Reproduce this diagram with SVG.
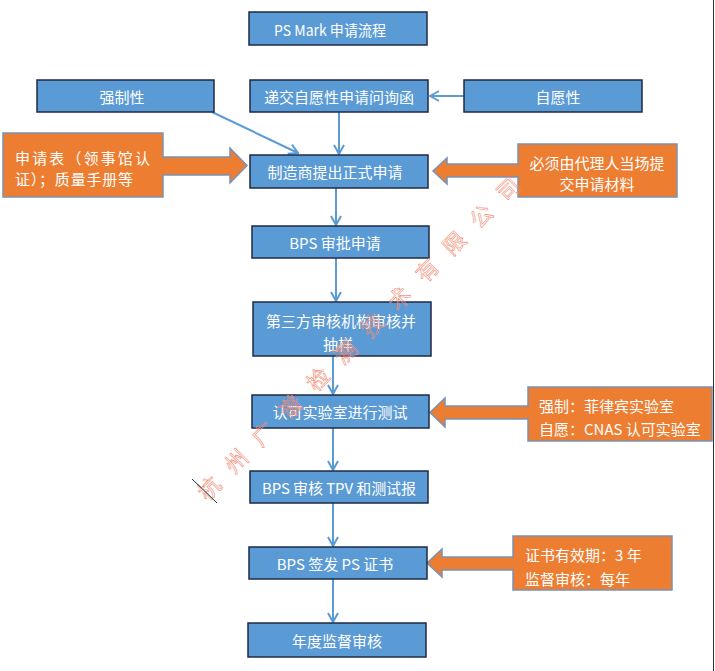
<svg xmlns="http://www.w3.org/2000/svg" width="715" height="671" viewBox="0 0 715 671">
<style>
.b{fill:#5B9BD5;stroke:#1F2A44;stroke-width:1.5}
.o{fill:#ED7D31;stroke:#7A93B5;stroke-width:1.5}
.t{font-family:"Noto Sans CJK SC","Noto Sans",sans-serif;font-size:15px;fill:#FFFFFF;text-anchor:middle;dominant-baseline:central}
.tl{text-anchor:start}
.c{fill:none;stroke:#5B9BD5;stroke-width:2}
.wm{font-family:"Noto Sans CJK SC",sans-serif;font-size:22px;fill:none;stroke:#F28A74;stroke-width:0.6;text-anchor:middle;dominant-baseline:central}
</style>
<defs>
<marker id="ah" viewBox="0 0 12 12" refX="11" refY="6" markerWidth="12" markerHeight="12" markerUnits="userSpaceOnUse" orient="auto">
<path d="M2,1 L11,6 L2,11" fill="none" stroke="#5B9BD5" stroke-width="2"/>
</marker>
</defs>
<rect width="715" height="671" fill="#FFFFFF"/>
<line x1="713.5" y1="0" x2="713.5" y2="671" stroke="#333" stroke-width="1"/>

<g id="connectors">
<line class="c" x1="464" y1="96" x2="430" y2="96" marker-end="url(#ah)"/>
<line class="c" x1="212" y1="112" x2="298" y2="153" marker-end="url(#ah)"/>
<line class="c" x1="339" y1="112" x2="339" y2="154" marker-end="url(#ah)"/>
<line class="c" x1="336" y1="188" x2="336" y2="225" marker-end="url(#ah)"/>
<line class="c" x1="336" y1="258" x2="336" y2="301" marker-end="url(#ah)"/>
<line class="c" x1="333" y1="356" x2="333" y2="394" marker-end="url(#ah)"/>
<line class="c" x1="333" y1="428" x2="333" y2="470" marker-end="url(#ah)"/>
<line class="c" x1="333" y1="503" x2="333" y2="546" marker-end="url(#ah)"/>
<line class="c" x1="333" y1="579" x2="333" y2="622" marker-end="url(#ah)"/>
<polygon class="o" points="163,157 230,157 230,148 247,165.5 230,183 230,175 163,175"/>
<polygon class="o" points="518,164 447,164 447,158 433,171 447,184 447,177 518,177"/>
<polygon class="o" points="528,406 445,406 445,398 430,412.5 445,427 445,419 528,419"/>
<polygon class="o" points="513,557 442,557 442,549 427,563 442,577 442,570 513,570"/>
</g>

<g id="n1"><rect class="b" x="249" y="12" width="178" height="33"/><text class="t" x="330" y="29" textLength="112" lengthAdjust="spacingAndGlyphs">PS Mark 申请流程</text></g>
<g id="n2"><rect class="b" x="250" y="80" width="178" height="32"/><text class="t" x="339" y="96">递交自愿性申请问询函</text></g>
<g id="n3"><rect class="b" x="37" y="80" width="177" height="32"/><text class="t" x="122" y="96">强制性</text></g>
<g id="n4"><rect class="b" x="464" y="80" width="178" height="32"/><text class="t" x="558" y="96">自愿性</text></g>
<g id="n5"><rect class="b" x="250" y="155" width="178" height="33"/><text class="t" x="335" y="171">制造商提出正式申请</text></g>
<g id="n6"><rect class="o" x="3" y="133" width="160" height="64"/><rect x="161" y="158" width="5" height="16" fill="#ED7D31"/>
<text class="t tl" x="15" y="157" textLength="135" lengthAdjust="spacing">申请表（领事馆认</text>
<text class="t tl" x="15" y="178" textLength="118" lengthAdjust="spacing">证）；质量手册等</text></g>
<g id="n7"><rect class="o" x="518" y="144" width="159" height="53"/><rect x="515" y="165" width="5" height="11" fill="#ED7D31"/>
<text class="t" x="597" y="162">必须由代理人当场提</text><text class="t" x="597" y="183">交申请材料</text></g>
<g id="n8"><rect class="b" x="252" y="226" width="177" height="32"/><text class="t" x="335" y="242">BPS 审批申请</text></g>
<g id="n9"><rect class="b" x="253" y="302" width="178" height="54"/><text class="t" x="341" y="320" textLength="150" lengthAdjust="spacing">第三方审核机构审核并</text><text class="t" x="338" y="343">抽样</text></g>
<g id="n10"><rect class="b" x="252" y="395" width="177" height="33"/><text class="t" x="340" y="411">认可实验室进行测试</text></g>
<g id="n11"><rect class="o" x="528" y="387" width="184" height="54"/><rect x="525" y="407" width="5" height="11" fill="#ED7D31"/>
<text class="t tl" x="539" y="405">强制：菲律宾实验室</text><text class="t tl" x="539" y="428">自愿：CNAS 认可实验室</text></g>
<g id="n12"><rect class="b" x="250" y="471" width="178" height="32"/><text class="t" x="339" y="487" textLength="154" lengthAdjust="spacing">BPS 审核 TPV 和测试报</text></g>
<g id="n13"><rect class="b" x="249" y="547" width="178" height="32"/><text class="t" x="335" y="563">BPS 签发 PS 证书</text></g>
<g id="n14"><rect class="o" x="513" y="536" width="159" height="54"/><rect x="510" y="558" width="5" height="11" fill="#ED7D31"/>
<text class="t tl" x="525" y="554">证书有效期：3 年</text><text class="t tl" x="525" y="578">监督审核：每年</text></g>
<g id="n15"><rect class="b" x="248" y="623" width="178" height="34"/><text class="t" x="337" y="640">年度监督审核</text></g>

<g id="watermark">
<text class="wm" transform="translate(208,487) rotate(-45)">杭</text>
<text class="wm" transform="translate(235,460) rotate(-45)">州</text>
<text class="wm" transform="translate(262,433) rotate(-45)">广</text>
<text class="wm" transform="translate(289,406) rotate(-45)">谱</text>
<text class="wm" transform="translate(317,378) rotate(-45)">检</text>
<text class="wm" transform="translate(344,351) rotate(-45)">测</text>
<text class="wm" transform="translate(371,324) rotate(-45)">技</text>
<text class="wm" transform="translate(398,297) rotate(-45)">术</text>
<text class="wm" transform="translate(426,269) rotate(-45)">有</text>
<text class="wm" transform="translate(453,242) rotate(-45)">限</text>
<text class="wm" transform="translate(480,215) rotate(-45)">公</text>
<text class="wm" transform="translate(507,188) rotate(-45)">司</text>
<line x1="192" y1="479" x2="217" y2="503" stroke="#1A3A48" stroke-width="1"/>
</g>
</svg>
